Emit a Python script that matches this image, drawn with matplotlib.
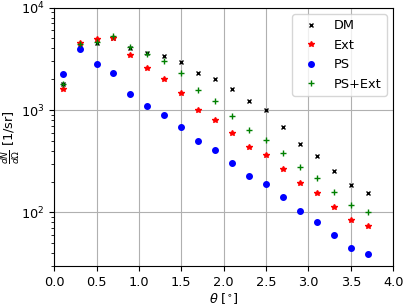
import matplotlib
matplotlib.use("Agg")
import matplotlib.pyplot as plt
import numpy as np

# angle bins (deg)
theta = [0.1, 0.3, 0.5, 0.7, 0.9, 1.1, 1.3, 1.5, 1.7, 1.9,
         2.1, 2.3, 2.5, 2.7, 2.9, 3.1, 3.3, 3.5, 3.7]

# dN/dOmega [1/sr]
dm = [1800, 4300, 4550, 5000, 4020, 3590, 3380, 2930, 2320, 2030,
      1610, 1230, 995, 684, 470, 359, 254, 187, 155]
ext = [1600, 4490, 4910, 5020, 3450, 2580, 2000, 1450, 1000, 800,
       593, 433, 362, 266, 195, 156, 114, 85, 73]
ps = [2250, 3930, 2820, 2300, 1440, 1100, 895, 684, 496, 405,
      306, 229, 191, 141, 103, 81, 60, 45, 39]
psext = [1800, 4400, 4620, 5290, 4160, 3550, 3040, 2300, 1580, 1230,
         876, 635, 514, 379, 276, 217, 160, 119, 101]

plt.rcParams['font.size'] = 9.3

fig = plt.figure(figsize=(4.07, 3.05), dpi=100)
ax = fig.add_axes([0.133, 0.128, 0.833, 0.847])

ax.plot(theta, dm, 'kx', markersize=3.5, label='DM')
ax.plot(theta, ext, 'r*', markersize=4, label='Ext')
ax.plot(theta, ps, 'bo', markersize=4, label='PS')
ax.plot(theta, psext, 'g+', markersize=4.5, label='PS+Ext')

ax.set_yscale('log')
ax.set_xlim(0, 4.0)
ax.set_ylim(30, 1e4)
ax.grid(True)
ax.set_xlabel(r'$\theta$ [$^{\circ}$]', labelpad=2)
ax.set_ylabel(r'$\frac{dN}{d\Omega}$ [1/sr]')
ax.yaxis.set_label_coords(-0.094, 0.5)
ax.legend(loc='upper right', numpoints=1)

plt.savefig('out.png')
